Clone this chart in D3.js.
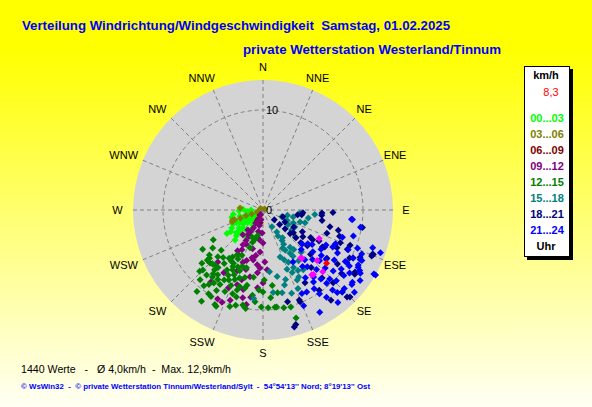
<!DOCTYPE html>
<html>
<head>
<meta charset="utf-8">
<script src="https://d3js.org/d3.v7.min.js"></script>
<style>
    html, body { margin: 0; padding: 0; background: #ffffff; }
    svg { display: block; font-family: "Liberation Sans", Arial, sans-serif; }
    text { white-space: pre; }
</style>
</head>
<body>
<div id="chart"></div>
<script>
// Wind direction / speed scatter (WsWin32 style)

const titleText = 'Verteilung Windrichtung/Windgeschwindigkeit  Samstag, 01.02.2025';
const subtitleText = 'private Wetterstation Westerland/Tinnum';
const statsText = '1440 Werte   -   Ø 4,0km/h  -  Max. 12,9km/h';
const footerText = "© WsWin32  -  © private Wetterstation Tinnum/Westerland/Sylt  -  54°54'13'' Nord; 8°19'13'' Ost";

const directions = ['N', 'NNE', 'NE', 'ENE', 'E', 'ESE', 'SE', 'SSE',
                    'S', 'SSW', 'SW', 'WSW', 'W', 'WNW', 'NW', 'NNW'];
const ringValues = [0, 10];
const speedMax = 13;

const timeSlots = ['00...03', '03...06', '06...09', '09...12', '12...15', '15...18', '18...21', '21...24'];
const slotColors = ['#00ff00', '#808000', '#800000', '#800080', '#008000', '#008080', '#000080', '#0000ff'];
const currentSpeed = '8,3';

// [direction in degrees, speed in km/h]
const h00 = [[249,2.2],[233,3.0],[242,2.6],[237,4.3],[209,2.1],[246,1.2],[259,1.5],[243,2.0],[219,1.3],
    [223,4.1],[230,3.5],[235,2.4],[250,3.0],[240,3.6],[228,2.7],[214,1.8],[225,1.5],[232,1.0],[255,2.4],
    [245,3.3],[238,1.8],[220,2.6],[212,3.2],[248,0.8],[236,3.9],[227,3.2],[252,1.9],[241,1.4],[205,1.2],
    [230,2.0],[268,2.4],[272,2.0],[265,1.6],[262,3.0],[257,3.2],[270,1.2],[244,2.9],[226,3.7]];
const h03 = [[275,2.3],[250,0.6],[250,1.2],[251,1.8],[250,2.4],[251,3.0],[249,3.3],[252,3.2],
    [300,0.3],[60,0.2]];
const h06 = [[209,0.6],[208,1.2],[192,1.3]];
const h09 = [[208,0.5],[208,1.0],[209,1.5],[208,2.0],[210,2.5],[208,3.0],[209,3.5],[210,4.0],[208,4.5],[209,5.1],
    [212,4.8],[206,3.8],[211,2.8],[192,1.0],[193,1.6],[192,2.2],[191,2.8],[182,2.3],[180,3.3],[184,4.2],
    [178,5.2],[185,6.3],[191,5.1],[198,5.3],
    [197,7.3],[194,8.2],[200,9.6],[207,10.0],[188,8.8],[216,8.9],[204,10.1],[204,8.5],[201,5.6],[191,6.8],
    [184,7.8],[183,5.8],[180,7.3],[193,9.0],[193,4.9],[219,3.2],[217,2.5],[187,3.0],[195,4.0],[189,4.6],
    [196,6.2],[186,5.5],[203,6.6],[212,7.4],[199,7.9],[221,6.9],[190,9.6],[176,6.0]];
const h12 = [[237,7.2],[228,7.5],[223,7.4],[226,8.8],[222,9.4],[219,10.5],[214,11.0],[213,10.0],[217,8.4],
    [206,10.7],[225,8.5],[225,7.5],[218,7.3],[215,7.9],[210,8.6],[207,10.6],[199,10.2],[196,9.9],[197,9.1],
    [192,9.7],[190,10.0],[181,9.7],[175,8.8],[173,9.8],[168,10.0],[208,7.4],[207,6.7],[199,7.2],[192,7.7],
    [187,8.6],[230,7.0],[221,7.3],[213,5.6],[208,6.4],[204,6.2],[205,5.0],[199,4.0],[202,2.9],[188,6.8],
    [180,8.2],[177,9.8],[172,9.8],[163,11.3],[164,10.1],[170,8.4],[173,7.6],[212,6.0],[216,6.6],[211,7.0],
    [206,7.8],[203,8.2],[209,8.0],[214,8.8],[201,6.5],[198,8.4],[195,7.0],[210,9.3],[218,9.6],[205,9.0],
    [200,8.9],[193,8.0],[215,5.9],[220,6.2],[224,6.5],[207,5.5],[202,7.5],[196,6.0],[210,5.2],[226,5.8],
    [233,6.3],[218,8.1],[185,9.2],[179,7.0],[183,8.0],[195,3.0],[192,2.6],[198,3.4],[228,7.2],[239,5.8],
    [213,8.3],[219,7.7],[204,7.1],[209,6.1],[216,9.2],[221,8.6],[200,6.0],[197,8.0],[211,10.1],[229,8.1]];
const h15 = [[102,2.5],[108,3.9],[95,5.2],[113,3.3],[152,1.9],[154,7.8],[148,3.6],[148,2.6],[148,5.1],
    [152,6.5],[152,7.6],[151,4.6],[154,5.8],[146,7.2],[160,5.0],[186,8.9],[174,6.2],[113,2.6],[103,3.1],
    [95,3.7],[118,3.6],[107,4.4],[145,3.4],[144,4.6],[167,8.5],[164,7.8],[173,8.3],[161,8.8],[150,3.0],
    [149,4.0],[153,4.3],[147,5.5],[155,6.9],[150,7.0],[145,6.2],[157,5.4],[158,6.4],[142,5.0],[120,2.9],
    [125,3.5],[110,2.0],[100,4.6],[130,4.2],[138,5.7],[162,7.3],[168,6.8],[156,8.6]];
const h18 = [[131,1.5],[131,2.2],[130,2.9],[131,3.6],[130,4.3],[131,5.0],[129,5.7],[119,2.5],[119,3.5],
    [119,4.5],[120,5.5],[119,6.4],[121,7.2],[127,3.8],[124,4.8],[121,5.8],[122,7.0],[109,2.1],[97,3.9],
    [95,5.9],[104,6.9],[113,8.4],[115,9.3],[116,10.8],[112,11.8],[98,3.5],[94,4.0],[93,5.9],[100,10.1],
    [112,11.9],[117,8.3],[110,6.8],[112,9.4],[118,10.2],[129,10.1],[136,10.1],[158,9.7],[164,11.9],
    [165,9.5],[158,9.9],[145,9.8],[143,11.3],[136,11.4],[136,12.1],[125,11.2],[165,12.1],[139,9.0],
    [150,8.4],[109,8.1],[113,11.8],[119,9.9],[124,11.1],[135,12.3],[127,8.0],[133,6.5],[140,7.5],
    [126,9.2],[105,7.8],[100,6.0],[92,7.0]];
const h21 = [[96,8.9],[109,11.6],[120,12.8],[121,11.1],[122,11.4],[129,11.5],[136,11.4],[141,11.9],
    [118,10.2],[122,9.7],[96,9.0],[100,9.9],[109,8.4],[118,7.9],[128,7.4],[122,9.9],[117,11.1],[126,10.7],
    [130,11.6],[151,11.7],[155,9.2],[145,8.8],[139,9.7],[120,13.0],[120,11.0],[123,11.6],[138,11.1],
    [134,11.3],[146,10.1],[152,9.3],[150,6.0],[117,10.9],[125,6.0],[130,6.5],[135,7.0],[128,8.0],[133,8.5],
    [138,8.0],[142,7.2],[140,9.0],[125,8.7],[131,9.3],[136,9.6],[120,8.6],[124,7.0],[132,7.6],[127,9.8],
    [143,8.4],[147,9.4],[134,10.2],[129,10.4],[123,10.3],[115,9.4],[112,10.2],[140,6.5],[136,5.5],
    [145,6.9],[148,8.0],[131,5.2],[127,5.6],[119,7.2],[115,8.0],[139,10.6],[144,10.8],[126,12.0],
    [114,10.8],[106,9.4],[110,12.5],[132,12.3],[157,10.4]];
const lastHour = [[142,6.1],[133,7.4],[143,8.1],[141,6.2],[142,8.2],[136,8.6],[117,6.3]];
const currentValue = [[130,8.3]];

const slotData = [h00, h03, h06, h09, h12, h15, h18, h21];

const width = 592;
const height = 407;
const cx = 263;
const cy = 210;
const radius = 130;

const svg = d3.select('#chart').append('svg')
    .attr('width', width)
    .attr('height', height);

// Yellow background gradient
const defs = svg.append('defs');
const grad = defs.append('linearGradient')
    .attr('id', 'bg')
    .attr('x1', 0).attr('y1', 0)
    .attr('x2', 0).attr('y2', 1);
grad.append('stop').attr('offset', '0%').attr('stop-color', '#ffff00');
grad.append('stop').attr('offset', '12%').attr('stop-color', '#ffff00');
grad.append('stop').attr('offset', '100%').attr('stop-color', '#fffff4');

svg.append('rect')
    .attr('width', width)
    .attr('height', height)
    .attr('fill', 'url(#bg)');

// Titles
svg.append('text')
    .attr('x', 22).attr('y', 30)
    .attr('font-size', '13px').attr('font-weight', 'bold')
    .attr('fill', '#0000ff')
    .attr('textLength', 428).attr('lengthAdjust', 'spacingAndGlyphs')
    .text(titleText);

svg.append('text')
    .attr('x', 243).attr('y', 54)
    .attr('font-size', '13px').attr('font-weight', 'bold')
    .attr('fill', '#0000ff')
    .attr('textLength', 258).attr('lengthAdjust', 'spacingAndGlyphs')
    .text(subtitleText);

// Polar scale
const rScale = d3.scaleLinear().domain([0, speedMax]).range([0, radius]);
const toRad = d => d * Math.PI / 180;

const plot = svg.append('g').attr('transform', `translate(${cx},${cy})`);

plot.append('circle')
    .attr('r', radius)
    .attr('fill', '#d4d4d4');

// Spokes
plot.selectAll('.spoke')
    .data(directions)
    .join('line')
    .attr('class', 'spoke')
    .attr('x1', 0).attr('y1', 0)
    .attr('x2', (d, i) => d3.pointRadial(toRad(i * 22.5), radius)[0])
    .attr('y2', (d, i) => d3.pointRadial(toRad(i * 22.5), radius)[1])
    .attr('stroke', '#808080')
    .attr('stroke-width', 1)
    .attr('stroke-dasharray', '4,3');

// Speed rings
plot.selectAll('.ring')
    .data(ringValues.filter(v => v > 0))
    .join('circle')
    .attr('class', 'ring')
    .attr('r', d => rScale(d))
    .attr('fill', 'none')
    .attr('stroke', '#808080')
    .attr('stroke-width', 1)
    .attr('stroke-dasharray', '4,3');

// Direction labels
plot.selectAll('.dir-label')
    .data(directions)
    .join('text')
    .attr('class', 'dir-label')
    .attr('font-size', '11px')
    .attr('fill', '#000')
    .attr('text-anchor', 'middle')
    .text(d => d)
    .each(function(d, i) {
        const [x, y] = d3.pointRadial(toRad(i * 22.5), 143);
        const w = this.getComputedTextLength();
        const shift = x < -5 ? -w / 4 : 0;
        d3.select(this).attr('x', x + shift).attr('y', y + 4);
    });

// Data points, oldest first
const diamond = 'M0,-3.5L3.5,0L0,3.5L-3.5,0Z';

function drawPoints(data, color) {
    plot.append('g')
        .selectAll('path')
        .data(data)
        .join('path')
        .attr('d', diamond)
        .attr('transform', d => {
            const [x, y] = d3.pointRadial(toRad(d[0]), rScale(d[1]));
            return `translate(${x},${y})`;
        })
        .attr('fill', color);
}

slotData.forEach((data, i) => drawPoints(data, slotColors[i]));
drawPoints(lastHour, '#ff00ff');
drawPoints(currentValue, '#ff0000');

// Ring value labels along the north spoke
plot.selectAll('.ring-label')
    .data(ringValues)
    .join('text')
    .attr('class', 'ring-label')
    .attr('x', 3)
    .attr('y', d => -rScale(d) + 4)
    .attr('font-size', '11px')
    .attr('fill', '#000')
    .text(d => d);

// Legend
const legend = svg.append('g').attr('transform', 'translate(524,66)');
legend.append('rect')
    .attr('x', 3).attr('y', 3)
    .attr('width', 46).attr('height', 191)
    .attr('fill', '#000');
legend.append('rect')
    .attr('x', 0.5).attr('y', 0.5)
    .attr('width', 45).attr('height', 190)
    .attr('fill', '#ffffff')
    .attr('stroke', '#000');

legend.append('text')
    .attr('x', 22).attr('y', 13)
    .attr('text-anchor', 'middle')
    .attr('font-size', '11px').attr('font-weight', 'bold')
    .text('km/h');

legend.append('text')
    .attr('x', 27).attr('y', 30)
    .attr('text-anchor', 'middle')
    .attr('font-size', '11px')
    .attr('fill', '#ff0000')
    .text(currentSpeed);

legend.selectAll('.slot')
    .data(timeSlots)
    .join('text')
    .attr('class', 'slot')
    .attr('x', 23)
    .attr('y', (d, i) => 56 + i * 16)
    .attr('text-anchor', 'middle')
    .attr('font-size', '11px').attr('font-weight', 'bold')
    .attr('fill', (d, i) => slotColors[i])
    .text(d => d);

legend.append('text')
    .attr('x', 22).attr('y', 184)
    .attr('text-anchor', 'middle')
    .attr('font-size', '11px').attr('font-weight', 'bold')
    .text('Uhr');

// Statistics and footer
svg.append('text')
    .attr('x', 21).attr('y', 373)
    .attr('font-size', '11px')
    .attr('fill', '#000')
    .attr('textLength', 210).attr('lengthAdjust', 'spacingAndGlyphs')
    .text(statsText);

svg.append('text')
    .attr('x', 21).attr('y', 389)
    .attr('font-size', '8px').attr('font-weight', 'bold')
    .attr('fill', '#0000ff')
    .attr('textLength', 349).attr('lengthAdjust', 'spacingAndGlyphs')
    .text(footerText);
</script>
</body>
</html>
